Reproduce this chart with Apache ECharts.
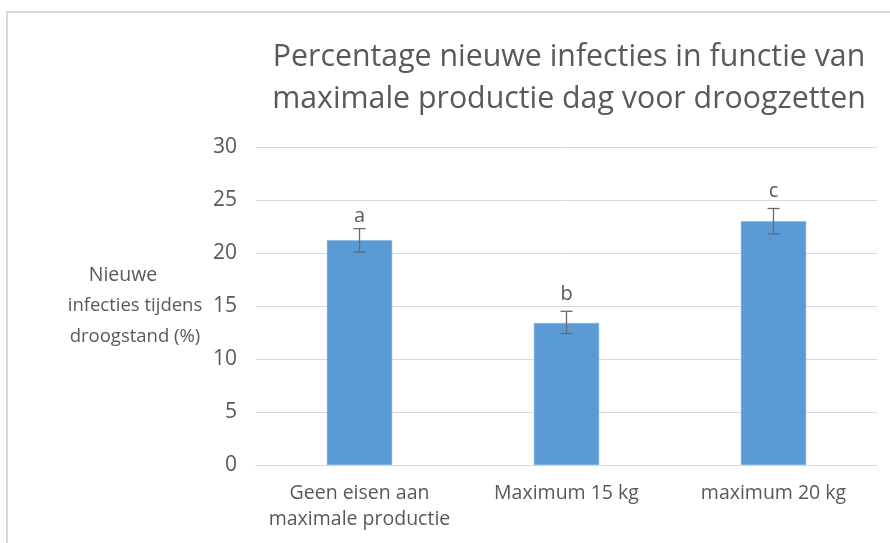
<!DOCTYPE html>
<html>
<head>
<meta charset="utf-8">
<script src="https://cdn.jsdelivr.net/npm/echarts@6/dist/echarts.min.js"></script>
<style>html,body{margin:0;padding:0;background:#fff;}#c{width:890px;height:543px;}</style>
</head>
<body>
<div id="c"></div>
<script>
const categories = ['Geen eisen aan\nmaximale productie', 'Maximum 15 kg', 'maximum 20 kg'];
const values = [21.2, 13.4, 23.0];
const errLow = [20.1, 12.4, 21.8];
const errHigh = [22.3, 14.5, 24.2];
const letters = ['a', 'b', 'c'];
const letterY = [23.45, 16.15, 25.85];
const yTicks = [0, 5, 10, 15, 20, 25, 30];
const titleLines = ['Percentage nieuwe infecties in functie van', 'maximale productie dag voor droogzetten'];
const yNameLines = ['Nieuwe', 'infecties tijdens', 'droogstand (%)'];

const FONT = '"Open Sans", sans-serif';
const TXT = '#595959';

const chart = echarts.init(document.getElementById('c'), null, {renderer: 'canvas'});
const errData = categories.map((c, i) => [i, errLow[i], errHigh[i], letterY[i], letters[i]]);
const yNameRich = '{first|' + yNameLines[0] + '}\n' + yNameLines.slice(1).map(s => '{rest|' + s + '}').join('\n');

chart.setOption({
  animation: false,
  backgroundColor: '#fff',
  graphic: [
    {type: 'rect', shape: {x: 7, y: 12, width: 1000, height: 1000}, style: {fill: 'none', stroke: '#D9D9D9', lineWidth: 2}, z: -1},
    {type: 'text', x: 569, y: 78, style: {text: titleLines.join('\n'), font: '30.3px ' + FONT, fill: TXT, align: 'center', verticalAlign: 'middle', lineHeight: 42}}
  ],
  grid: {left: 256, right: 13, top: 147, bottom: 78, containLabel: false},
  xAxis: {
    type: 'category',
    data: categories,
    axisLine: {lineStyle: {color: '#D9D9D9', width: 1}},
    axisTick: {show: false},
    axisLabel: {color: TXT, fontFamily: FONT, fontSize: 19.5, lineHeight: 26, margin: 15, interval: 0}
  },
  yAxis: {
    type: 'value',
    min: yTicks[0],
    max: yTicks[yTicks.length - 1],
    interval: 5,
    name: yNameRich,
    nameLocation: 'middle',
    nameRotate: 0,
    nameGap: 121,
    nameTextStyle: {
      color: TXT, fontFamily: FONT, fontSize: 18.5, lineHeight: 30.5, align: 'center', verticalAlign: 'middle',
      rich: {
        first: {color: TXT, fontFamily: FONT, fontSize: 19.5, lineHeight: 30.5, padding: [0, 24, 0, 0]},
        rest: {color: TXT, fontFamily: FONT, fontSize: 18.5, lineHeight: 30.5}
      }
    },
    axisLine: {show: false},
    axisTick: {show: false},
    axisLabel: {color: TXT, fontFamily: FONT, fontSize: 21, margin: 19},
    splitLine: {lineStyle: {color: '#D9D9D9', width: 1}}
  },
  series: [
    {
      type: 'bar',
      data: values,
      barWidth: '31.5%',
      itemStyle: {color: '#5B9BD5', borderColor: '#7EB0E0', borderWidth: 0.5}
    },
    {
      type: 'custom',
      data: errData,
      z: 10,
      renderItem: function (params, api) {
        const x = api.value(0);
        const lo = api.coord([x, api.value(1)]);
        const hi = api.coord([x, api.value(2)]);
        const ly = api.coord([x, api.value(3)]);
        const hw = 6;
        const st = {stroke: '#6A6A6A', lineWidth: 1.3};
        return {
          type: 'group',
          children: [
            {type: 'line', shape: {x1: hi[0], y1: hi[1], x2: lo[0], y2: lo[1]}, style: st},
            {type: 'line', shape: {x1: hi[0] - hw, y1: hi[1], x2: hi[0] + hw, y2: hi[1]}, style: st},
            {type: 'line', shape: {x1: lo[0] - hw, y1: lo[1], x2: lo[0] + hw, y2: lo[1]}, style: st},
            {type: 'text', x: ly[0], y: ly[1], style: {text: api.value(4), font: '20px ' + FONT, fill: TXT, align: 'center', verticalAlign: 'middle'}}
          ]
        };
      }
    }
  ]
});
</script>
</body>
</html>
